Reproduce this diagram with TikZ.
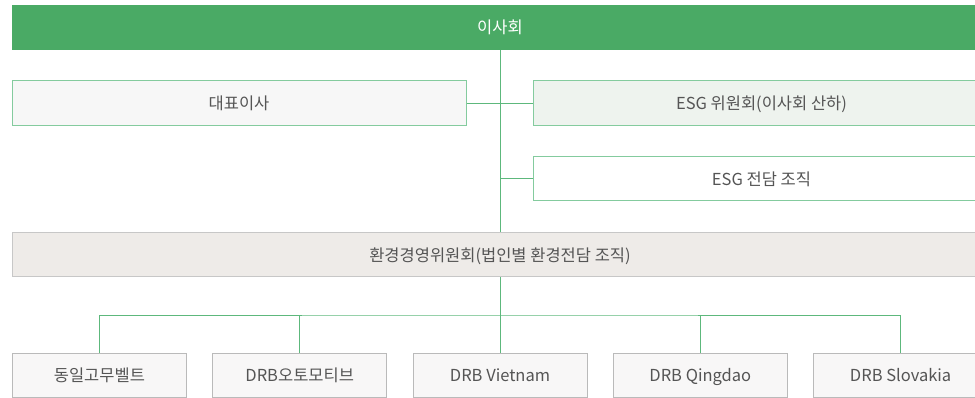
\documentclass[tikz,border=0pt]{standalone}
\usepackage{fontspec}
\setmainfont{Noto Sans CJK KR}
\usetikzlibrary{positioning}
\definecolor{boardgreen}{HTML}{4AAA65}
\definecolor{linegreen}{HTML}{5DB87C}
\definecolor{boxgreen}{HTML}{84CB9E}
\definecolor{esgfill}{HTML}{EEF3EE}
\definecolor{envfill}{HTML}{EEEBE8}
\definecolor{subfill}{HTML}{F8F7F7}
\definecolor{txtgray}{HTML}{555555}
\tikzstyle{board}=[rectangle,fill=boardgreen,draw=none,text=white,
minimum width=976pt,minimum height=45pt,inner sep=0pt]
\tikzstyle{gbox}=[rectangle,draw=boxgreen,line width=1pt,text=txtgray,
minimum height=45pt,inner sep=0pt]
\tikzstyle{envbox}=[rectangle,draw=black!22,fill=envfill,line width=1pt,text=txtgray,
minimum width=976pt,minimum height=44pt,inner sep=0pt]
\tikzstyle{sub}=[rectangle,draw=black!27,fill=subfill,line width=1pt,text=txtgray,
minimum width=174pt,minimum height=44pt,inner sep=0pt]
\tikzstyle{link}=[draw=linegreen,line width=1pt]
\begin{document}
\begin{tikzpicture}[x=1pt,y=-1pt,node distance=25.3pt,
  font=\fontsize{16.5pt}{19pt}\selectfont,text height=15pt,text depth=2pt]
            \useasboundingbox (0,0) rectangle (975,398);
            \clip (0,0) rectangle (975,398);

            % board and staff
            \node[board] (bd) at (500,27.5) {이사회};
            \node[gbox,fill=black!3,minimum width=454pt] (ceo) at (239,103.5) {대표이사};
            \node[gbox,fill=esgfill,minimum width=457pt] (esg1) at (761.5,103.5) {ESG 위원회(이사회 산하)};
            \node[gbox,fill=white,minimum width=457pt,minimum height=44pt] (esg2) at (761.5,179) {ESG 전담 조직};

            % committee
            \node[envbox] (env) at (500,255) {환경경영위원회(법인별 환경전담 조직)};

            % subsidiaries
            \node[sub] (c3) at (500,375) {DRB Vietnam};
            \node[sub,left=of c3] (c2) {DRB오토모티브};
            \node[sub,left=of c2] (c1) {동일고무벨트};
            \node[sub,right=of c3] (c4) {DRB Qingdao};
            \node[sub,right=of c4] (c5) {DRB Slovakia};
            \coordinate (bus) at (500,315);

            % links
            \path[link] (bd) -- (env);
            \path[link] (ceo) -- (esg1);
            \path[link] (esg2.west) -- (esg2.west -| bd);
            \path[link] (env) -- (c3);
            \path[link] (c1.north) |- (bus) -| (c5.north);
            \path[link] (c2.north) -- (c2.north |- bus);
            \path[link] (c4.north) -- (c4.north |- bus);

        \end{tikzpicture}
\end{document}
